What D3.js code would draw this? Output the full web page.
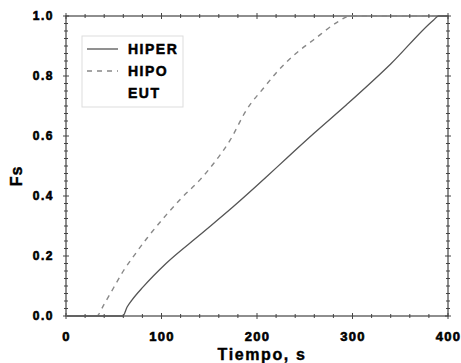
<!DOCTYPE html>
<html><head><meta charset="utf-8">
<script src="https://cdn.jsdelivr.net/npm/d3@7"></script>
<style>body{margin:0;background:#fff}svg{display:block}</style>
</head><body><svg id="c" width="461" height="363"></svg>
<script>
const xTicks = [0, 100, 200, 300, 400];
const yTicks = [0.0, 0.2, 0.4, 0.6, 0.8, 1.0];
const seriesNames = ["HIPER", "HIPO", "EUT"];
const hiperT  = [0, 59.5, 64, 69, 81, 105, 140, 175, 210, 231, 260, 294, 340, 385, 390, 400];
const hiperFs = [0, 0, 0.03, 0.053, 0.098, 0.176, 0.27, 0.364, 0.464, 0.526, 0.61, 0.705, 0.84, 0.987, 1.0, 1.0];
const hipoT   = [0, 32, 40, 50, 60, 70.5, 85, 105, 120, 140, 155, 172, 189, 208, 220, 241, 259, 285, 297, 400];
const hipoFs  = [0, 0, 0.04, 0.095, 0.15, 0.198, 0.26, 0.337, 0.39, 0.453, 0.51, 0.587, 0.687, 0.764, 0.81, 0.876, 0.92, 0.981, 1.0, 1.0];

const FONT = "'Liberation Sans', Arial, sans-serif";
const svg = d3.select("#c");
const x = d3.scaleLinear().domain([0, 400]).range([66, 448]);
const y = d3.scaleLinear().domain([0, 1]).range([316, 16]);
const axCol = "#444";

function boldText(sel, size, ls, sw) {
  sel.attr("font-size", size).attr("letter-spacing", ls)
    .style("font-family", FONT).style("font-weight", "700")
    .attr("fill", "#000").attr("stroke", "#000").attr("stroke-width", sw);
  return sel;
}

// frame
svg.append("rect").attr("x", x(0)).attr("y", y(1)).attr("width", x(400)-x(0)).attr("height", y(0)-y(1))
  .attr("fill", "none").attr("stroke", axCol).attr("stroke-width", 1.2);

// minor/major ticks (crossing)
const xMinor = d3.range(0, 401, 20);
const yMinor = d3.range(0, 1.0001, 0.025);
const tg = svg.append("g").attr("stroke", axCol).attr("stroke-width", 1);
xMinor.forEach(v => {
  const L = (v % 100 === 0) ? 3 : 2;
  [y(0), y(1)].forEach(yy => tg.append("line").attr("x1", x(v)).attr("x2", x(v)).attr("y1", yy - L).attr("y2", yy + L));
});
yMinor.forEach(v => {
  const L = (Math.abs(v*5 - Math.round(v*5)) < 1e-6) ? 3 : 2;
  [x(0), x(400)].forEach(xx => tg.append("line").attr("y1", y(v)).attr("y2", y(v)).attr("x1", xx - L).attr("x2", xx + L));
});

// tick labels via axes
const xa = svg.append("g").attr("transform", `translate(0,${y(0)})`)
  .call(d3.axisBottom(x).tickValues(xTicks).tickSize(0).tickPadding(16).tickFormat(d3.format("d")));
xa.select(".domain").remove();
boldText(xa.selectAll("text"), 13, 1.2, 0.6);

const ya = svg.append("g").attr("transform", `translate(${x(0)},0)`)
  .call(d3.axisLeft(y).tickValues(yTicks).tickSize(0).tickPadding(12).tickFormat(d3.format(".1f")));
ya.select(".domain").remove();
boldText(ya.selectAll("text"), 12, 1.5, 0.6);

// axis titles
boldText(svg.append("text").attr("x", 262).attr("y", 360).attr("text-anchor", "middle"), 16, 1.6, 0.4).text("Tiempo, s");
boldText(svg.append("text").attr("transform", "translate(22,176) rotate(-90)").attr("text-anchor", "middle"), 16, 1, 0.4).text("Fs");

// curves
const line = d3.line().x(d => x(d[0])).y(d => y(d[1])).curve(d3.curveMonotoneX);
const hiper = hiperT.map((t, i) => [t, hiperFs[i]]);
const hipo = hipoT.map((t, i) => [t, hipoFs[i]]);
svg.append("path").datum(hipo).attr("d", line).attr("fill", "none").attr("stroke", "#888").attr("stroke-width", 1.4).attr("stroke-dasharray", "5,5");
svg.append("path").datum(hiper).attr("d", line).attr("fill", "none").attr("stroke", "#555").attr("stroke-width", 1.3);

// legend
const lg = svg.append("g");
lg.append("rect").attr("x", 82).attr("y", 36).attr("width", 101).attr("height", 71).attr("fill", "#fff").attr("stroke", "#ddd").attr("stroke-width", 1);
const styles = [{c:"#555", d:null}, {c:"#888", d:"5,5"}, {c:"none", d:null}];
seriesNames.forEach((n, i) => {
  const yy = 49 + i * 22;
  if (styles[i].c !== "none")
    lg.append("line").attr("x1", 87).attr("x2", 118).attr("y1", yy).attr("y2", yy).attr("stroke", styles[i].c).attr("stroke-width", 1.3).attr("stroke-dasharray", styles[i].d);
  boldText(lg.append("text").attr("x", 128).attr("y", yy + 5), 14, 1.5, 0.5).text(n);
});
</script></body></html>
